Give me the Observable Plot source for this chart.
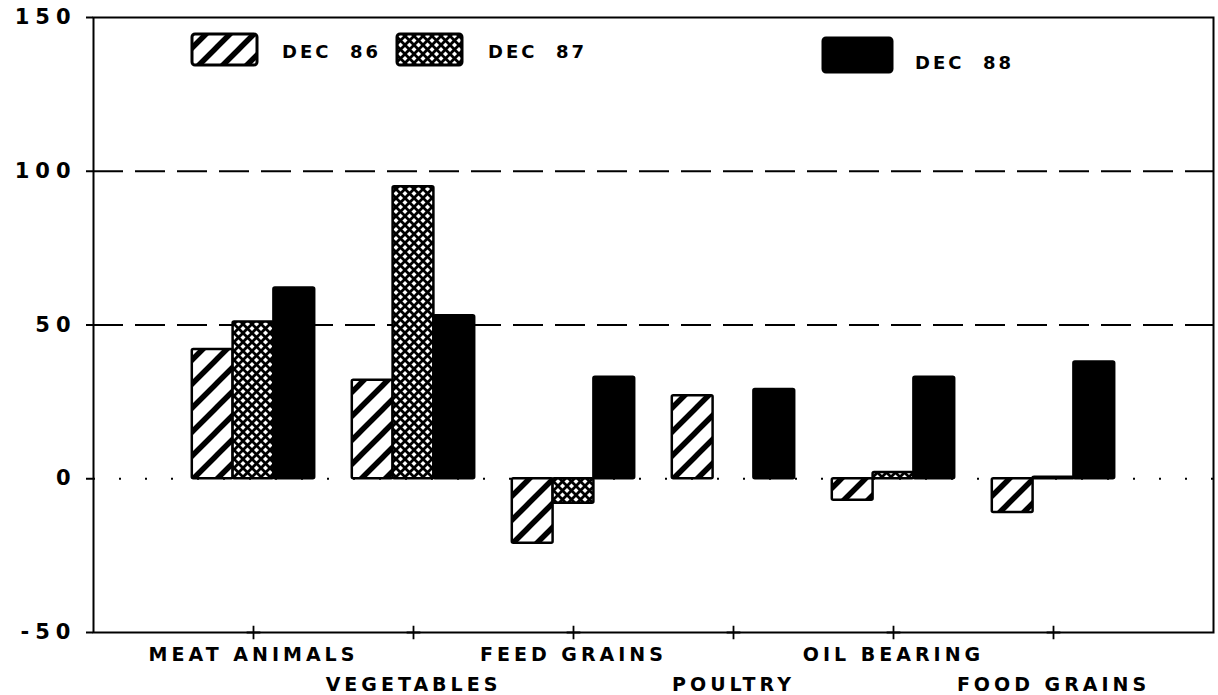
<!DOCTYPE html>
<html>
<head>
<meta charset="utf-8">
<script src="https://cdn.jsdelivr.net/npm/d3@7"></script>
<script src="https://cdn.jsdelivr.net/npm/@observablehq/plot@0.6"></script>
<style>
  html, body { margin: 0; padding: 0; background: #fff; }
  #chart { position: relative; width: 1218px; height: 695px; }
  #chart svg { display: block; }
  #chart g[aria-label="y-axis tick label"] text { letter-spacing: 6px; }
  #chart g[aria-label="x-axis tick label"] text { letter-spacing: 4px; }
  .legend text { letter-spacing: 3px; }
</style>
</head>
<body>
<div id="chart"></div>
<script>
// ---- data ----
const categories = ["MEAT ANIMALS", "VEGETABLES", "FEED GRAINS", "POULTRY", "OIL BEARING", "FOOD GRAINS"];
const series = ["DEC 86", "DEC 87", "DEC 88"];
const dec86 = [42, 32, -21, 27, -7, -11];
const dec87 = [51, 95, -8, 0, 2, 0.5];
const dec88 = [62, 53, 33, 29, 33, 38];
const yTicks = [-50, 0, 50, 100, 150];
const gridValues = [50, 100];

const seriesValues = [dec86, dec87, dec88];
const fills = ["url(#hatch)", "url(#cross)", "black"];
const barWidth = 0.255; // in category-slot units
const rows = [];
seriesValues.forEach((vals, si) => {
  vals.forEach((v, ci) => {
    const x1 = ci + 1 + (si - 1.5) * barWidth;
    rows.push({cat: categories[ci], series: series[si], si, x1, x2: x1 + barWidth, value: v});
  });
});
const catPos = categories.map((c, i) => i + 1);

const plot = Plot.plot({
  width: 1218,
  height: 695,
  marginLeft: 93,
  marginRight: 5,
  marginTop: 17,
  marginBottom: 63,
  x: {domain: [0, categories.length + 1], axis: null},
  y: {domain: [-50, 150], axis: null},
  style: {fontFamily: "DejaVu Sans", fontWeight: "bold", background: "white", color: "black"},
  marks: [
    Plot.ruleY(gridValues, {stroke: "black", strokeWidth: 2, strokeDasharray: "30,12"}),
    Plot.ruleY([0], {stroke: "black", strokeWidth: 2, strokeDasharray: "2,24"}),
    ...series.map((s, si) =>
      Plot.rectY(rows.filter(d => d.si === si && d.value !== 0), {
        x1: "x1", x2: "x2", y1: 0, y2: "value",
        fill: fills[si], stroke: "black", strokeWidth: 2.5, rx: 1.5
      })
    ),
    Plot.frame({stroke: "black", strokeWidth: 2}),
    Plot.dot(catPos, {x: d => d, y: -50, symbol: "plus", r: 4.5, stroke: "black", strokeWidth: 1.8}),
    Plot.axisY(yTicks, {
      label: null, tickSize: 7, tickPadding: 10, fontSize: 21, fontWeight: "bold",
      strokeWidth: 2, tickFormat: d => String(d)
    }),
    Plot.axisX(catPos.filter((d, i) => i % 2 === 0), {
      label: null, tickSize: 0, tickPadding: 15, fontSize: 19, fontWeight: "bold",
      tickFormat: d => categories[d - 1]
    }),
    Plot.axisX(catPos.filter((d, i) => i % 2 === 1), {
      label: null, tickSize: 0, tickPadding: 45, fontSize: 19, fontWeight: "bold",
      tickFormat: d => categories[d - 1]
    })
  ]
});

// patterns
const svg = d3.select(plot);
const defs = svg.insert("defs", ":first-child");
const h = defs.append("pattern").attr("id", "hatch").attr("patternUnits", "userSpaceOnUse")
  .attr("width", 24).attr("height", 24);
h.append("rect").attr("width", 24).attr("height", 24).attr("fill", "white");
h.append("path").attr("d", "M-6,30 L30,-6 M-18,18 L18,-18 M6,42 L42,6")
  .attr("stroke", "black").attr("stroke-width", 5.5);
const c = defs.append("pattern").attr("id", "cross").attr("patternUnits", "userSpaceOnUse")
  .attr("width", 9).attr("height", 9);
c.append("rect").attr("width", 9).attr("height", 9).attr("fill", "white");
c.append("path").attr("d", "M-1,-1 L10,10 M10,-1 L-1,10")
  .attr("stroke", "black").attr("stroke-width", 2.8);

// legend (inside the plot, top area)
const legendLayout = [
  {bx: 192, by: 34, bw: 65, bh: 31, tx: 282, ty: 52},
  {bx: 397, by: 34, bw: 65, bh: 31, tx: 488, ty: 52},
  {bx: 823, by: 38, bw: 69, bh: 34, tx: 915, ty: 63}
];
const lg = svg.append("g").attr("class", "legend").attr("text-anchor", "start")
  .attr("font-family", "DejaVu Sans").attr("font-weight", "bold").attr("font-size", 18);
series.forEach((s, i) => {
  const L = legendLayout[i];
  lg.append("rect").attr("x", L.bx).attr("y", L.by).attr("width", L.bw).attr("height", L.bh)
    .attr("rx", 3).attr("fill", fills[i]).attr("stroke", "black").attr("stroke-width", 3);
  lg.append("text").attr("x", L.tx).attr("y", L.ty).attr("dy", "0.35em")
    .style("white-space", "pre").text(s.replace(" ", "  "));
});

document.getElementById("chart").appendChild(plot);
</script>
</body>
</html>
